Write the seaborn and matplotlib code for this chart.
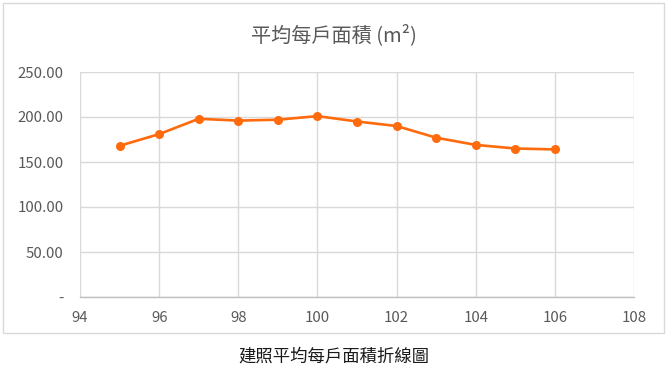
import matplotlib
matplotlib.use("Agg")
import matplotlib.pyplot as plt
import seaborn as sns
import pandas as pd
from matplotlib.patches import Rectangle

years = [95, 96, 97, 98, 99, 100, 101, 102, 103, 104, 105, 106]
avg_area = [168, 181, 198, 196, 197, 201, 195, 190, 177, 169, 165, 164]
x_ticks = [94, 96, 98, 100, 102, 104, 106, 108]
y_ticks = [0, 50, 100, 150, 200, 250]
y_tick_labels = ["-", "50.00", "100.00", "150.00", "200.00", "250.00"]
title = "平均每戶面積 (m²)"
caption = "建照平均每戶面積折線圖"

sns.set_theme(style="white")
plt.rcParams['font.family'] = ['Noto Sans CJK TC', 'DejaVu Sans']

df = pd.DataFrame({"year": years, "area": avg_area})

fig = plt.figure(figsize=(6.69, 3.73), dpi=100)
fig.patch.set_facecolor("white")
ax = fig.add_axes([80/669, 1-297/373, (634-80)/669, (297-72)/373])

sns.lineplot(data=df, x="year", y="area", ax=ax, color="#FF6A0D",
             marker="o", markersize=6.5, markeredgewidth=0, linewidth=1.9)

ax.set_xlim(94, 108)
ax.set_ylim(0, 250)
ax.set_xticks(x_ticks)
ax.set_xticklabels([str(t) for t in x_ticks])
ax.set_yticks(y_ticks)
ax.set_yticklabels(y_tick_labels)
ax.grid(True, color="#D9D9D9", linewidth=1.0)
ax.set_axisbelow(True)
for s in ["top", "right", "left"]:
    ax.spines[s].set_visible(False)
ax.spines["bottom"].set_color("#BFBFBF")
ax.spines["bottom"].set_linewidth(1.0)
ax.tick_params(axis="both", length=0, labelsize=10.8, labelcolor="#595959")
ax.tick_params(axis="x", pad=10)
ax.tick_params(axis="y", pad=12)
ax.set_xlabel("")
ax.set_ylabel("")

fig.text(334/669, 1-35/373, title, ha="center", va="center", fontsize=14.5, color="#595959")
fig.text(334/669, 1-357/373, caption, ha="center", va="center", fontsize=12.5, color="#1a1a1a",
         fontweight="light")

border = Rectangle((3/669, 1-333/373), 661/669, 330/373, transform=fig.transFigure,
                   fill=False, edgecolor="#D9D9D9", linewidth=1.0)
fig.patches.append(border)

fig.savefig("out.png", dpi=100)
